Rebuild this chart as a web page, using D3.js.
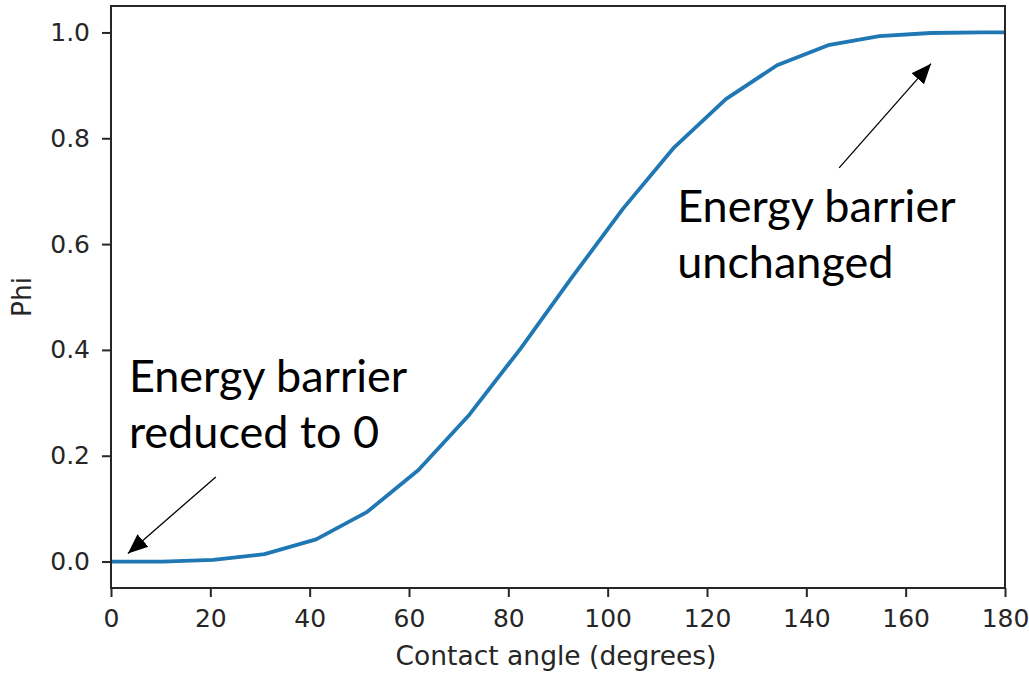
<!DOCTYPE html>
<html>
<head>
<meta charset="utf-8">
<script src="https://cdn.jsdelivr.net/npm/d3@7"></script>
<style>
  body { margin: 0; background: #fff; }
  .tick text { font-family: "DejaVu Sans", sans-serif; fill: #262626; }
  .note { font-family: Lato, "Open Sans", sans-serif; fill: #000; }
</style>
</head>
<body>
<div id="chart"></div>
<script>
// contact angle (degrees) and Phi
var angles = [0, 10.3, 20.6, 30.9, 41.3, 51.6, 61.9, 72.2, 82.5, 92.8,
              103.1, 113.4, 123.8, 134.1, 144.4, 154.7, 165.0, 175.3, 185.6];
var phi    = [0.000, 0.000, 0.003, 0.014, 0.042, 0.094, 0.173, 0.278, 0.403, 0.537,
              0.667, 0.783, 0.874, 0.938, 0.976, 0.993, 0.999, 1.000, 1.000];
var xTicks = [0, 20, 40, 60, 80, 100, 120, 140, 160, 180];
var yTicks = [0.0, 0.2, 0.4, 0.6, 0.8, 1.0];

// annotations: [label lines, text anchor point, arrow tail, arrow tip]
var noteLow  = { lines: ["Energy barrier", "reduced to 0"], at: [3.6, 0.3205], tail: [21.1, 0.160], tip: [3.4, 0.015] };
var noteHigh = { lines: ["Energy barrier", "unchanged"],    at: [114.0, 0.642], tail: [146.6, 0.744], tip: [165.1, 0.941] };

var W = 1029, H = 674;
var margin = {top: 6, right: 24, bottom: 86, left: 111},
    width  = W - margin.left - margin.right,
    height = H - margin.top - margin.bottom;

var x = d3.scaleLinear().domain([0, 180]).range([0, width]);
var y = d3.scaleLinear().domain([-0.05, 1.05]).range([height, 0]);

var svg = d3.select("#chart").append("svg")
  .attr("width", W).attr("height", H);

var defs = svg.append("defs");
defs.append("clipPath").attr("id", "plotclip")
  .append("rect").attr("width", width).attr("height", height);
defs.append("marker")
  .attr("id", "head")
  .attr("markerUnits", "userSpaceOnUse")
  .attr("markerWidth", 20).attr("markerHeight", 20)
  .attr("viewBox", "0 -8 18 16")
  .attr("refX", 18).attr("refY", 0)
  .attr("orient", "auto")
  .append("path").attr("d", "M0,-7.5L18,0L0,7.5Z").attr("fill", "#000");

var g = svg.append("g")
  .attr("transform", "translate(" + margin.left + "," + margin.top + ")");

// axes
var xAxis = d3.axisBottom(x).tickValues(xTicks).tickSize(9).tickPadding(12)
  .tickFormat(d3.format("d"));
var yAxis = d3.axisLeft(y).tickValues(yTicks).tickSize(9).tickPadding(12)
  .tickFormat(d3.format(".1f"));

g.append("g")
  .attr("transform", "translate(0," + height + ")")
  .call(xAxis)
  .call(function (a) { a.select(".domain").remove(); })
  .selectAll("text").attr("font-size", 25);

g.append("g")
  .call(yAxis)
  .call(function (a) { a.select(".domain").remove(); })
  .selectAll("text").attr("font-size", 25);

g.selectAll(".tick line").attr("stroke", "#262626").attr("stroke-width", 2);

// the curve
var line = d3.line()
  .x(function (d, i) { return x(angles[i]); })
  .y(function (d) { return y(d); });

g.append("path")
  .datum(phi)
  .attr("clip-path", "url(#plotclip)")
  .attr("fill", "none")
  .attr("stroke", "#1f77b4")
  .attr("stroke-width", 3.8)
  .attr("stroke-linejoin", "round")
  .attr("d", line);

// frame
g.append("rect")
  .attr("width", width).attr("height", height)
  .attr("fill", "none").attr("stroke", "#262626").attr("stroke-width", 2);

// axis titles
svg.append("text")
  .attr("x", margin.left + width / 2 - 2).attr("y", 665)
  .attr("text-anchor", "middle")
  .attr("font-family", "DejaVu Sans, sans-serif").attr("font-size", 26.5)
  .attr("fill", "#262626")
  .text("Contact angle (degrees)");

svg.append("text")
  .attr("transform", "translate(31," + (margin.top + y(0.5)) + ") rotate(-90)")
  .attr("text-anchor", "middle")
  .attr("font-family", "DejaVu Sans, sans-serif").attr("font-size", 26.5)
  .attr("fill", "#262626")
  .text("Phi");

// annotations
[noteLow, noteHigh].forEach(function (n) {
  var t = g.append("text").attr("class", "note")
    .attr("x", x(n.at[0])).attr("y", y(n.at[1]))
    .attr("font-size", 45);
  n.lines.forEach(function (s, i) {
    t.append("tspan").attr("x", x(n.at[0])).attr("dy", i ? 56 : 0).text(s);
  });
  g.append("line")
    .attr("x1", x(n.tail[0])).attr("y1", y(n.tail[1]))
    .attr("x2", x(n.tip[0])).attr("y2", y(n.tip[1]))
    .attr("stroke", "#000").attr("stroke-width", 1.3)
    .attr("marker-end", "url(#head)");
});
</script>
</body>
</html>
